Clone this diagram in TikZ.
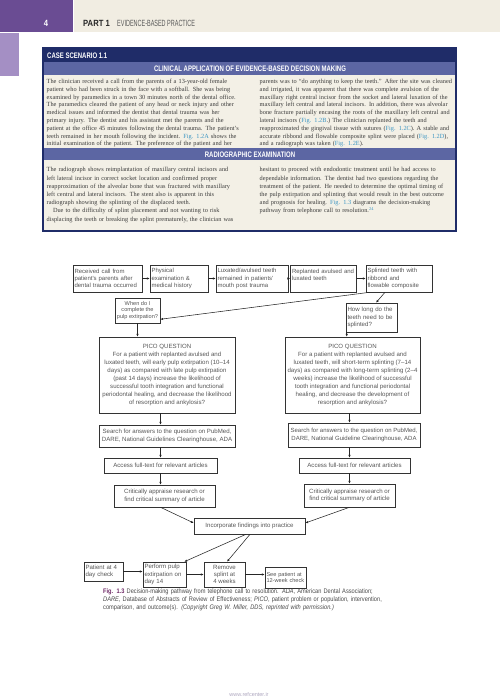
\documentclass[tikz,border=0pt]{standalone}
\usepackage{fontspec}
\setmainfont{Liberation Serif}
\newfontfamily\sansf{Liberation Sans}
\newfontfamily\bandf[FakeStretch=0.75]{Liberation Sans}
\newfontfamily\hdrlight[FakeStretch=0.61]{Liberation Sans}
\newfontfamily\hdrbold[FakeStretch=0.85]{Liberation Sans}
\newfontfamily\capf[FakeStretch=0.86]{Liberation Sans}
\usetikzlibrary{arrows.meta}
\definecolor{hdrpurple}{HTML}{6A4C93}
\definecolor{hdrbeige}{HTML}{F1EDE2}
\definecolor{strip}{HTML}{A48FC4}
\definecolor{navy}{HTML}{1F2C68}
\definecolor{bandblue}{HTML}{5C66A3}
\definecolor{boxbeige}{HTML}{F3F0E6}
\definecolor{bodytxt}{HTML}{3A3A3A}
\definecolor{linkc}{HTML}{3C95C2}
\definecolor{figpurple}{HTML}{6E2A66}
\definecolor{flowtxt}{HTML}{555555}
\definecolor{captxt}{HTML}{4A4A4A}
\definecolor{wm}{HTML}{ADA6BE}
\newcommand\JL[1]{\par\hbox to\hsize{#1}}
\newcommand\LL[1]{\par\hbox{#1}}
\newcommand\lk[1]{\textcolor{linkc}{#1}}
\begin{document}
\begin{tikzpicture}[x=1pt,y=-1pt,
 flow/.style={draw=black!80, line width=0.55pt, text=flowtxt, inner sep=1.5pt, font={\fontsize{6.1}{7.3}\sansf}},
 rowone/.style={flow, font={\fontsize{6}{7.2}\sansf}, minimum height=27pt, align=left},
 conn/.style={draw=black!85, line width=0.55pt, -{Latex[length=2.8pt,width=2.4pt]}},
 body/.style={anchor=north west, inner sep=0pt, text=bodytxt, font={\fontsize{6.3}{7.8}\selectfont\spaceskip=0.25em plus 0.7em minus 0.1em\relax}},
 bodyb/.style={body, font={\fontsize{6.3}{8.2}\selectfont\spaceskip=0.25em plus 0.7em minus 0.1em\relax}},
 band/.style={inner sep=0pt, text=white, font={\fontsize{8}{9}\bandf\bfseries}}
]
\useasboundingbox (0,0) rectangle (500,700);
% header
\fill[hdrpurple] (0,0) rectangle (73,32);
\fill[hdrbeige] (73.5,0) rectangle (500,32);
\fill[strip] (0,33.5) rectangle (19,76);
\node[anchor=base, inner sep=0, text=white, font={\fontsize{9}{10}\hdrbold\bfseries}] (pg) at (46,27) {4};
\node[anchor=base west, inner sep=0, text=black!85, font={\fontsize{9}{10}\hdrbold\bfseries}] (part) at (83,27) {PART 1};
\node[anchor=base west, inner sep=0, text=black!65, font={\fontsize{9}{10}\hdrlight}] (ebp) at (117,27) {EVIDENCE-BASED PRACTICE};
% case box
\fill[boxbeige] (43,48) rectangle (456,231);
\fill[navy] (43,48) rectangle (456,62);
\fill[bandblue] (43,62) rectangle (456,75);
\fill[bandblue] (43,148.5) rectangle (456,160.5);
\draw[navy, line width=1.2pt] (43,48) rectangle (456,231);
\node[band, anchor=base west] (cs) at (47,58.5) {CASE SCENARIO 1.1};
\node[band, anchor=base] (t1) at (250,71.8) {CLINICAL APPLICATION OF EVIDENCE-BASED DECISION MAKING};
\node[band, anchor=base] (t2) at (250,157.6) {RADIOGRAPHIC EXAMINATION};
\node[body, text width=206.5pt] (c1) at (46.5,75.5) {%
\JL{The clinician received a call from the parents of a 13-year-old female}
\JL{patient who had been struck in the face with a softball. She was being}
\JL{examined by paramedics in a town 30 minutes north of the dental office.}
\JL{The paramedics cleared the patient of any head or neck injury and other}
\JL{medical issues and informed the dentist that dental trauma was her}
\JL{primary injury. The dentist and his assistant met the parents and the}
\JL{patient at the office 45 minutes following the dental trauma. The patient's}
\JL{teeth remained in her mouth following the incident. \lk{Fig. 1.2A} shows the}
\JL{initial examination of the patient. The preference of the patient and her}};
\node[body, text width=193pt] (c2) at (259.5,75.5) {%
\JL{parents was to “do anything to keep the teeth.” After the site was cleaned}
\JL{and irrigated, it was apparent that there was complete avulsion of the}
\JL{maxillary right central incisor from the socket and lateral luxation of the}
\JL{maxillary left central and lateral incisors. In addition, there was alveolar}
\JL{bone fracture partially encasing the roots of the maxillary left central and}
\JL{lateral incisors (\lk{Fig. 1.2B}.) The clinician replanted the teeth and}
\JL{reapproximated the gingival tissue with sutures (\lk{Fig. 1.2C}). A stable and}
\JL{accurate ribbond and flowable composite splint were placed (\lk{Fig. 1.2D}),}
\LL{and a radiograph was taken (\lk{Fig. 1.2E}).}};
\node[bodyb, text width=206.5pt] (c3) at (46.5,163.5) {%
\JL{The radiograph shows reimplantation of maxillary central incisors and}
\JL{left lateral incisor in correct socket location and confirmed proper}
\JL{reapproximation of the alveolar bone that was fractured with maxillary}
\JL{left central and lateral incisors. The stent also is apparent in this}
\LL{radiograph showing the splinting of the displaced teeth.}
\JL{\hspace*{1em}Due to the difficulty of splint placement and not wanting to risk}
\JL{displacing the teeth or breaking the splint prematurely, the clinician was}};
\node[bodyb, text width=193pt] (c4) at (259.5,163.5) {%
\JL{hesitant to proceed with endodontic treatment until he had access to}
\JL{dependable information. The dentist had two questions regarding the}
\JL{treatment of the patient. He needed to determine the optimal timing of}
\JL{the pulp extirpation and splinting that would result in the best outcome}
\JL{and prognosis for healing. \lk{Fig. 1.3} diagrams the decision-making}
\LL{pathway from telephone call to resolution.\lk{\textsuperscript{24}}}};
% flowchart row 1
\node[rowone, minimum width=69pt, text width=66pt] (A) at (107.5,278.5) {Received call from\\patient's parents after\\dental trauma occurred};
\node[rowone, minimum width=58pt, text width=55pt] (B) at (179,278.5) {Physical\\examination \&\\medical history};
\node[rowone, minimum width=72pt, text width=69pt] (C) at (252,278.5) {Luxated/avulsed teeth\\remained in patients'\\mouth post trauma};
\node[rowone, minimum width=66pt, text width=63pt] (D) at (323.5,278.5) {Replanted avulsed and\\luxated teeth\\\mbox{}};
\node[rowone, minimum width=66pt, text width=63pt] (E) at (399,278.5) {Splinted teeth with\\ribbond and\\flowable composite};
% questions
\node[flow, font={\fontsize{5.6}{6.9}\sansf}, minimum width=45pt, minimum height=25pt, align=center] (F) at (137.5,310.5) {When do I\\complete the\\pulp extirpation?};
\node[flow, minimum width=51pt, minimum height=29pt, text width=48pt, align=left] (G) at (371.5,317.5) {How long do the\\teeth need to be\\splinted?};
% PICO
\node[flow, font={\fontsize{6.1}{8.1}\sansf}, minimum width=136pt, minimum height=76pt, align=center] (PL) at (167,375) {PICO QUESTION\\For a patient with replanted avulsed and\\luxated teeth, will early pulp extirpation (10–14\\days) as compared with late pulp extirpation\\(past 14 days) increase the likelihood of\\successful tooth integration and functional\\periodontal healing, and decrease the likelihood\\of resorption and ankylosis?};
\node[flow, font={\fontsize{6.1}{8.1}\sansf}, minimum width=135pt, minimum height=76pt, align=center] (PR) at (352.5,375) {PICO QUESTION\\For a patient with replanted avulsed and\\luxated teeth, will short-term splinting (7–14\\days) as compared with long-term splinting (2–4\\weeks) increase the likelihood of successful\\tooth integration and functional periodontal\\healing, and decrease the development of\\resorption and ankylosis?};
% search
\node[flow, minimum width=136pt, minimum height=22pt, align=center] (SL) at (167,436) {Search for answers to the question on PubMed,\\DARE, National Guidelines Clearinghouse, ADA};
\node[flow, font={\fontsize{6}{7.3}\sansf}, minimum width=132pt, minimum height=24pt, align=center] (SR) at (354,435) {Search for answers to the question on PubMed,\\DARE, National Guideline Clearinghouse, ADA};
% access
\node[flow, minimum width=113pt, minimum height=15pt, align=center] (AL) at (160.5,465.5) {Access full-text for relevant articles};
\node[flow, minimum width=111pt, minimum height=15pt, align=center] (AR) at (354.5,465.5) {Access full-text for relevant articles};
% critically
\node[flow, minimum width=101pt, minimum height=22pt, align=center] (CL) at (164.5,496) {Critically appraise research or\\find critical summary of article};
\node[flow, minimum width=91pt, minimum height=23pt, align=center] (CR) at (349.5,495.5) {Critically appraise research or\\find critical summary of article};
% incorporate
\node[flow, minimum width=111pt, minimum height=16pt, align=center] (I) at (249.5,526) {Incorporate findings into practice};
% bottom row
\node[flow, minimum width=39pt, minimum height=19pt, text width=36pt, align=left] (P1) at (103.5,571.5) {Patient at 4\\day check};
\node[flow, minimum width=43pt, minimum height=25pt, text width=40pt, align=left] (P2) at (164.5,574.5) {Perform pulp\\extirpation on\\day 14};
\node[flow, minimum width=41pt, minimum height=25pt, align=center] (P3) at (224.5,574.5) {Remove\\splint at\\4 weeks};
\node[flow, font={\fontsize{5.6}{6.9}\sansf}, minimum width=41pt, minimum height=21pt, text width=38pt, align=left] (P4) at (285.5,577.5) {See patient at\\12-week check};
% connectors
\draw[conn] (A.east) -- (B.west);
\draw[conn] (B.east) -- (C.west);
\draw[conn] (C.east) -- (D.west);
\draw[conn] (D.east) -- (E.west);
\draw[conn] ([xshift=-14pt]E.south) -- ([xshift=4.5pt]G.north);
\draw[conn] ([xshift=4pt]E.south west) -- ([yshift=4pt]F.south east);
\draw[conn] (F.south) -- (F.south |- PL.north);
\coordinate (g1) at ([xshift=1pt]G.south west);
\draw[conn] (g1) -- (g1 |- PR.north);
\draw[conn] (PL.south -| AL.north) -- (SL.north -| AL.north);
\draw[conn] (SL.south -| AL.north) -- (AL.north);
\draw[conn] (AL.south) -- (AL.south |- CL.north);
\draw[conn] (PR.south -| CR.north) -- (SR.north -| CR.north);
\draw[conn] (SR.south -| CR.north) -- (AR.north -| CR.north);
\draw[conn] (AR.south -| CR.north) -- (CR.north);
\draw[conn] ([xshift=-4pt]CL.south) -- ([yshift=3pt]I.west);
\draw[conn] (CR.south) -- ([yshift=3pt]I.east);
\draw[conn] ([xshift=-3.5pt]I.south) -- ([xshift=-2pt]P2.north east);
\draw[conn] ([xshift=0.5pt]I.south) -- ([xshift=2.5pt]P3.north);
\draw[conn] (P1.east) -- (P1.east -| P2.west);
\draw[conn] (P2.east) -- (P3.west);
\draw[conn] (P3.east) -- (P3.east -| P4.west);
% caption
\node[anchor=north west, inner sep=0pt, text width=292pt, text=captxt, font={\fontsize{6.6}{8}\capf\spaceskip=0.26em plus 0.6em minus 0.06em\relax}] (cap) at (103,585.5) {%
\JL{{\color{figpurple}\bfseries Fig. 1.3} Decision-making pathway from telephone call to resolution. \textit{ADA}, American Dental Association;}
\JL{\textit{DARE}, Database of Abstracts of Review of Effectiveness; \textit{PICO}, patient problem or population, intervention,}
\LL{comparison, and outcome(s). \textit{(Copyright Greg W. Miller, DDS, reprinted with permission.)}}};
\node[inner sep=0pt, text=wm, font={\fontsize{5.5}{6}\sansf}] (wmk) at (249,695) {www.refcenter.ir};
\end{tikzpicture}
\end{document}
